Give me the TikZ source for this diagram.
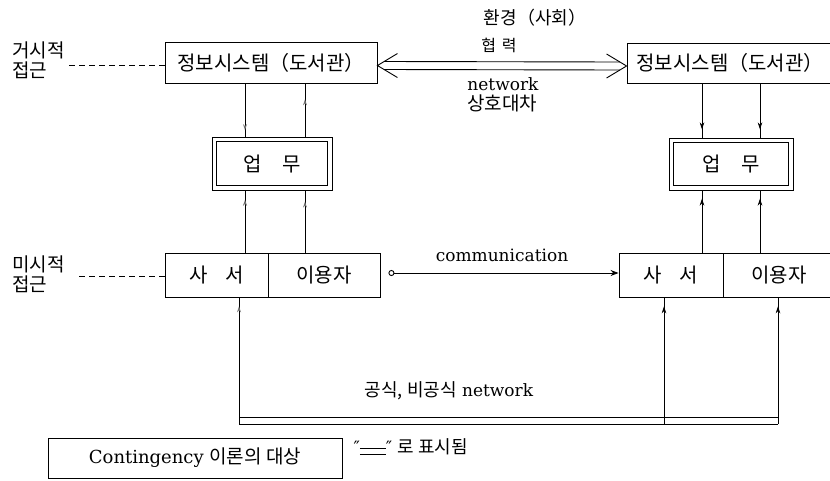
\documentclass[tikz,border=0pt]{standalone}
\usepackage{fontspec}
\setmainfont{DejaVu Serif}
\newfontfamily\kr{Noto Sans CJK KR}
\usetikzlibrary{arrows.meta,calc,decorations.markings}
\newcommand{\dblline}{\rule[-1pt]{26pt}{0.8pt}\llap{\rule[4.5pt]{26pt}{0.8pt}}}
\tikzset{
  ln/.style={line width=0.9pt},
  dashln/.style={line width=0.8pt, dash pattern=on 6pt off 4pt},
  box/.style={draw, line width=0.9pt, inner sep=0pt, font=\kr\fontsize{20}{24}\selectfont},
  wbox/.style={draw, line width=0.9pt, inner sep=0pt, font=\kr\fontsize{20}{24}\selectfont},
  wboxin/.style={line width=0.9pt},
  lbl/.style={font=\kr\fontsize{19}{20}\selectfont, align=left, inner sep=0pt},
  marr/.style={postaction={decorate, decoration={markings, mark=at position #1 with {\arrow{Stealth[length=7pt,width=4.5pt]}}}}},
  marro/.style={postaction={decorate, decoration={markings, mark=at position #1 with {\arrow{Stealth[open,length=6pt,width=4pt,black!55]}}}}},
}
\begin{document}
\begin{tikzpicture}[x=1pt,y=-1pt]
\clip (0,0) rectangle (830,480);
% boxes
\node[box, minimum width=212pt, minimum height=41pt] (sysL) at (271,62.5) {정보시스템（도서관）};
\node[box, minimum width=206pt, minimum height=40pt] (sysR) at (730,63) {정보시스템（도서관）};
\node[wbox, minimum width=120pt, minimum height=53pt] (wL) at (272,163.5) {업\hspace{1em}무};
\node[wbox, minimum width=124pt, minimum height=52pt] (wR) at (731,164) {업\hspace{1em}무};
\draw[wboxin] ([shift={(5,5)}]wL.north west) rectangle ([shift={(-5,-5)}]wL.south east);
\draw[wboxin] ([shift={(5,5)}]wR.north west) rectangle ([shift={(-5,-5)}]wR.south east);
\node[box, minimum width=103pt, minimum height=44pt] (saL) at (216.5,275) {사\hspace{0.9em}서};
\node[box, minimum width=112pt, minimum height=44pt] (usL) at (324,275) {이용자};
\node[box, minimum width=104pt, minimum height=44pt] (saR) at (671,275) {사\hspace{0.9em}서};
\node[box, minimum width=112pt, minimum height=44pt] (usR) at (779,275) {이용자};
% side labels
\node[lbl, anchor=north west] (macro) at (12,42) {거시적\\접근};
\node[lbl, anchor=north west] (micro) at (12,256) {미시적\\접근};
\draw[dashln] ([yshift=-3pt]sysL.west) -- ([yshift=-3pt,xshift=3pt]sysL.west -| macro.east);
\draw[dashln] ([yshift=-1pt]saL.west) -- ([yshift=-1pt,xshift=12pt]saL.west -| micro.east);
% top texts
\node[font=\kr\fontsize{18}{20}\selectfont] (env) at (535,18) {환경（사회）};
\node[font=\kr\fontsize{16}{18}\selectfont] (coop) at (499,45) {협\hspace{0.35em}력};
\node[font=\fontsize{17}{20}\selectfont] (netw) at (503,84) {network};
\node[font=\kr\fontsize{19}{20}\selectfont] (ill) at (502,103) {상호대차};
% double arrow between systems
\coordinate (tl) at ([yshift=-3pt]sysL.east);
\coordinate (tr) at ([yshift=-3pt]sysR.west);
\draw[ln] ([xshift=6.7pt,yshift=4pt]tl) -- ([xshift=-6.7pt,yshift=4pt]tr);
\draw[ln] ([xshift=6.7pt,yshift=-4pt]tl) -- ([xshift=-6.7pt,yshift=-4pt]tr);
\draw[ln] ([xshift=20pt,yshift=12pt]tl) -- (tl) -- ([xshift=20pt,yshift=-12pt]tl);
\draw[ln] ([xshift=-20pt,yshift=12pt]tr) -- (tr) -- ([xshift=-20pt,yshift=-12pt]tr);
% left verticals
\draw[ln, marro=0.88] ($(sysL.south)+(-26,0)$) coordinate (p1) -- (p1 |- wL.north);
\draw[ln, marro=0.7] ($(wL.north)+(33,0)$) coordinate (p2) -- (p2 |- sysL.south);
\draw[ln, marro=0.85] ($(saL.north)+(28.5,0)$) coordinate (p5) -- (p5 |- wL.south);
\draw[ln, marro=0.82] ($(usL.north)+(-19,0)$) coordinate (p6) -- (p6 |- wL.south);
% right verticals
\draw[ln, marr=0.85] ($(sysR.south)+(-28,0)$) coordinate (p3) -- (p3 |- wR.north);
\draw[ln, marr=0.85] ($(sysR.south)+(30,0)$) coordinate (p4) -- (p4 |- wR.north);
\draw[ln, marr=0.87] ($(saR.north)+(31,0)$) coordinate (p7) -- (p7 |- wR.south);
\draw[ln, marr=0.87] ($(usR.north)+(-19,0)$) coordinate (p8) -- (p8 |- wR.south);
% communication
\node[font=\fontsize{17}{20}\selectfont] (comm) at (502,255) {communication};
\draw[ln, {Circle[open,length=6pt]}-{Stealth[length=8pt,width=6pt]}] ([xshift=8pt,yshift=2pt]usL.east) -- ([yshift=2pt]saR.west);
% network at bottom
\coordinate (nb1) at ($(saL.south)+(22.5,0)$);
\coordinate (nb2) at ($(saR.south)+(-7,0)$);
\coordinate (nb3) at ($(usR.south)+(-1,0)$);
\coordinate (lo) at (0,424);
\coordinate (hi) at (0,417);
\draw[ln, marro=0.93] (nb1 |- lo) -- (nb1);
\draw[ln, marr=0.93] (nb2 |- lo) -- (nb2);
\draw[ln, marr=0.93] (nb3 |- lo) -- (nb3);
\draw[ln] (nb1 |- lo) -- (nb3 |- lo);
\draw[ln] (nb1 |- hi) -- (nb3 |- hi);
\node[font=\fontsize{17}{20}\selectfont] (netlbl) at (449,391) {{\kr\fontsize{18}{20}\selectfont 공식,\ 비공식} network};
% legend
\node[draw, ln, minimum width=294pt, minimum height=40pt, font=\fontsize{18}{20}\selectfont] (leg) at (195,458) {Contingency {\kr\fontsize{19}{20}\selectfont 이론의 대상}};
\node[anchor=west, font=\fontsize{17}{20}\selectfont] (legtxt) at (350,447) {″\dblline″ {\kr\fontsize{18}{20}\selectfont 로 표시됨}};
\end{tikzpicture}
\end{document}
